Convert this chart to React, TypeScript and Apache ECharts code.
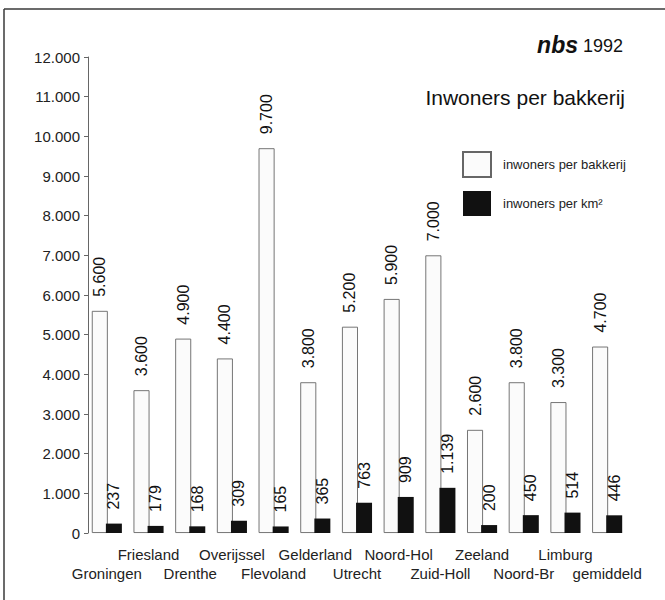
import React, { useEffect, useRef } from "react";
import * as echarts from "echarts";

const categories = [
  "Groningen", "Friesland", "Drenthe", "Overijssel", "Flevoland", "Gelderland",
  "Utrecht", "Noord-Hol", "Zuid-Holl", "Zeeland", "Noord-Br", "Limburg", "gemiddeld",
];
const perBakkerij = [5600, 3600, 4900, 4400, 9700, 3800, 5200, 5900, 7000, 2600, 3800, 3300, 4700];
const perKm2 = [237, 179, 168, 309, 165, 365, 763, 909, 1139, 200, 450, 514, 446];
const seriesNames = ["inwoners per bakkerij", "inwoners per km²"];
const titleText = "Inwoners per bakkerij";
const logoText = "nbs";
const yearText = "1992";

const FONT = "'Liberation Sans', Arial, Helvetica, sans-serif";

function fmt(v: number): string {
  const s = String(Math.round(v));
  return s.replace(/\B(?=(\d{3})+(?!\d))/g, ".");
}

export default function App() {
  const ref = useRef<HTMLDivElement>(null);
  useEffect(() => {
    document.body.style.margin = "0";
    const chart = echarts.init(ref.current!, null, { renderer: "svg" });
    const labelCommon = {
      show: true,
      position: "top" as const,
      rotate: 90,
      align: "left" as const,
      verticalAlign: "middle" as const,
      distance: 14,
      fontSize: 16,
      fontFamily: FONT,
      color: "#111",
      formatter: (p: any) => fmt(p.value),
    };
    chart.setOption({
      animation: false,
      backgroundColor: "#ffffff",
      textStyle: { fontFamily: FONT },
      grid: { left: 86, right: 37, top: 57, bottom: 67 },
      legend: {
        orient: "vertical",
        left: 462,
        top: 151,
        icon: "rect",
        itemWidth: 28,
        itemHeight: 25,
        itemGap: 13,
        padding: 0,
        data: seriesNames,
        textStyle: { fontSize: 13, color: "#222", fontFamily: FONT, padding: [0, 0, 0, 7] },
      },
      xAxis: {
        type: "category",
        data: categories,
        axisLine: { show: false },
        axisTick: { show: false },
        axisLabel: {
          interval: 0,
          margin: 12,
          fontSize: 15,
          lineHeight: 19,
          color: "#222",
          fontFamily: FONT,
          formatter: (v: string, i: number) => (i % 2 === 1 ? v : "\n" + v),
        },
      },
      yAxis: {
        type: "value",
        min: 0,
        max: 12000,
        interval: 1000,
        offset: -2,
        axisLine: { show: true, lineStyle: { color: "#666", width: 1 } },
        axisTick: { show: true, length: 4, lineStyle: { color: "#666" } },
        splitLine: { show: false },
        axisLabel: {
          margin: 8,
          fontSize: 15,
          color: "#222",
          fontFamily: FONT,
          formatter: (v: number) => fmt(v),
        },
      },
      series: [
        {
          name: seriesNames[0],
          type: "bar",
          data: perBakkerij,
          barWidth: 16,
          barGap: "-12%",
          itemStyle: { color: "#fbfbfb", borderColor: "#666", borderWidth: 0.9 },
          label: labelCommon,
        },
        {
          name: seriesNames[1],
          type: "bar",
          data: perKm2,
          barWidth: 16,
          itemStyle: { color: "#111" },
          label: labelCommon,
        },
      ],
      graphic: [
        { type: "line", shape: { x1: 4, y1: 9, x2: 665, y2: 9 }, style: { stroke: "#3a3a3a", lineWidth: 1.5 } },
        { type: "line", shape: { x1: 4, y1: 9, x2: 4, y2: 600 }, style: { stroke: "#3a3a3a", lineWidth: 1.5 } },
        {
          type: "text",
          x: 578,
          y: 45,
          style: {
            text: logoText,
            font: `italic bold 23px ${FONT}`,
            fill: "#111",
            align: "right",
            verticalAlign: "middle",
          },
        },
        {
          type: "text",
          x: 583,
          y: 46,
          style: {
            text: yearText,
            font: `18px ${FONT}`,
            fill: "#111",
            align: "left",
            verticalAlign: "middle",
          },
        },
        {
          type: "text",
          x: 625,
          y: 97,
          style: {
            text: titleText,
            font: `21px ${FONT}`,
            fill: "#111",
            align: "right",
            verticalAlign: "middle",
          },
        },
      ],
    });
    return () => chart.dispose();
  }, []);
  return <div ref={ref} style={{ width: 665, height: 600 }} />;
}
